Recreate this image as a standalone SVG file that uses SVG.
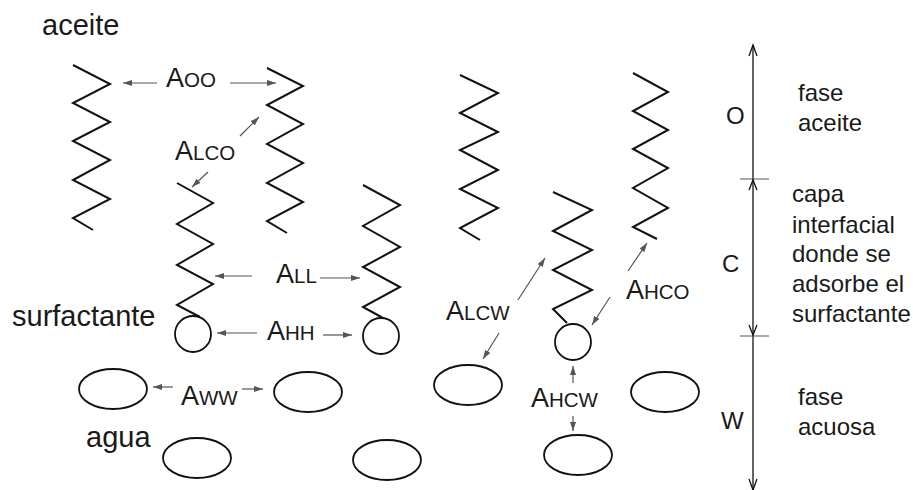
<svg xmlns="http://www.w3.org/2000/svg" width="913" height="490" viewBox="0 0 913 490">
<defs>
<marker id="ah" markerWidth="10" markerHeight="8" refX="9" refY="3" orient="auto" markerUnits="userSpaceOnUse">
<path d="M0,0 L9,3 L0,6 z" fill="#555"/>
</marker>
<style>
text{font-family:"Liberation Sans",Arial,sans-serif;fill:#1a1a1a}
.chain{fill:none;stroke:#111;stroke-width:2;stroke-linejoin:miter}
.mol{fill:none;stroke:#111;stroke-width:1.8}
.lbl{font-size:29px}
.rt{font-size:24px}
.ax{font-size:24px}
.big{font-size:27px}
.sub{font-size:20.5px}
.conn{stroke:#555;stroke-width:1.2;fill:none;marker-end:url(#ah)}
.axis{stroke:#111;stroke-width:1.3;fill:none}
.tick{stroke:#555;stroke-width:1;fill:none}
</style>
</defs>
<rect width="913" height="490" fill="#fff"/>

<g id="oil1"><polyline class="chain" points="73,65 110,84 73,103 110,122 73,141 110,160 73,180 110,199 73,218 93,230"/></g>
<g id="oil2"><polyline class="chain" points="267,68 303,86 267,105 303,124 267,144 303,163 267,183 303,202 267,221 287,233"/></g>
<g id="oil3"><polyline class="chain" points="460,75 498,93 460,113 498,132 460,150 498,170 460,189 498,208 460,228 480,240"/></g>
<g id="oil4"><polyline class="chain" points="633,73 668,92 633,111 668,130 633,149 668,168 633,188 668,208 633,227 657,239"/></g>

<g id="surf1">
<polyline class="chain" points="177,183 213,203 177,224 213,244 177,265 213,284 177,305 200,317"/>
<circle class="mol" cx="193" cy="334" r="18"/>
</g>
<g id="surf2">
<polyline class="chain" points="363,185 400,205 363,226 400,247 363,267 400,287 363,307 383,318"/>
<circle class="mol" cx="381" cy="336" r="18"/>
</g>
<g id="surf3">
<polyline class="chain" points="553,192 592,210 553,231 592,250 553,270 592,290 553,309 567,323"/>
<circle class="mol" cx="573" cy="342" r="18"/>
</g>

<g id="water1"><ellipse class="mol" cx="113" cy="389" rx="34" ry="20"/></g>
<g id="water2"><ellipse class="mol" cx="308" cy="392" rx="34" ry="20"/></g>
<g id="water3"><ellipse class="mol" cx="197" cy="458" rx="34" ry="20"/></g>
<g id="water4"><ellipse class="mol" cx="387" cy="460" rx="34" ry="20"/></g>
<g id="water5"><ellipse class="mol" cx="468" cy="385" rx="34" ry="20"/></g>
<g id="water6"><ellipse class="mol" cx="578" cy="455" rx="34" ry="20"/></g>
<g id="water7"><ellipse class="mol" cx="665" cy="392" rx="34" ry="20"/></g>

<g id="labels-left">
<text class="lbl" x="42" y="35">aceite</text>
<text class="lbl" x="12" y="326">surfactante</text>
<text class="lbl" x="86" y="447">agua</text>
</g>

<g id="interaction-labels">
<text x="166" y="87"><tspan class="big">A</tspan><tspan class="sub">OO</tspan></text>
<text x="175" y="160"><tspan class="big">A</tspan><tspan class="sub">LCO</tspan></text>
<text x="276" y="283"><tspan class="big">A</tspan><tspan class="sub">LL</tspan></text>
<text x="267" y="340"><tspan class="big">A</tspan><tspan class="sub">HH</tspan></text>
<text x="181" y="405"><tspan class="big">A</tspan><tspan class="sub">WW</tspan></text>
<text x="446" y="320"><tspan class="big">A</tspan><tspan class="sub">LCW</tspan></text>
<text x="626" y="299"><tspan class="big">A</tspan><tspan class="sub">HCO</tspan></text>
<text x="531" y="407"><tspan class="big">A</tspan><tspan class="sub">HCW</tspan></text>
</g>

<g id="connectors">
<line class="conn" x1="157" y1="83" x2="123" y2="83"/>
<line class="conn" x1="230" y1="83" x2="276" y2="83"/>
<line class="conn" x1="240" y1="136" x2="259" y2="117"/>
<line class="conn" x1="208" y1="172" x2="192" y2="187"/>
<line class="conn" x1="252" y1="276" x2="215" y2="276"/>
<line class="conn" x1="320" y1="278" x2="360" y2="278"/>
<line class="conn" x1="257" y1="333" x2="217" y2="333"/>
<line class="conn" x1="323" y1="335" x2="352" y2="335"/>
<line class="conn" x1="173" y1="387" x2="153" y2="387"/>
<line class="conn" x1="242" y1="389" x2="263" y2="389"/>
<line class="conn" x1="518" y1="300" x2="545" y2="258"/>
<line class="conn" x1="499" y1="333" x2="483" y2="359"/>
<line class="conn" x1="628" y1="271" x2="647" y2="243"/>
<line class="conn" x1="610" y1="297" x2="592" y2="325"/>
<line class="conn" x1="573" y1="383" x2="573" y2="366"/>
<line class="conn" x1="573" y1="416" x2="573" y2="431"/>
</g>

<g id="axis">
<line class="axis" x1="753" y1="45" x2="753" y2="492"/>
<polyline class="axis" points="749,56 753,45 757,56"/>
<line class="tick" x1="740" y1="179" x2="769" y2="179"/>
<polyline class="axis" points="749,190 753,180 757,190"/>
<line class="tick" x1="740" y1="336" x2="769" y2="336"/>
<polyline class="axis" points="749,325 753,335 757,325"/>
<polyline class="axis" points="749,479 753,490 757,479"/>
<text class="ax" x="726" y="124">O</text>
<text class="ax" x="722" y="272">C</text>
<text class="ax" x="721" y="429">W</text>
</g>

<g id="labels-right">
<text class="rt" x="798" y="101">fase</text>
<text class="rt" x="798" y="131">aceite</text>
<text class="rt" x="792" y="202">capa</text>
<text class="rt" x="792" y="233">interfacial</text>
<text class="rt" x="792" y="262">donde se</text>
<text class="rt" x="792" y="292">adsorbe el</text>
<text class="rt" x="792" y="322">surfactante</text>
<text class="rt" x="798" y="405">fase</text>
<text class="rt" x="798" y="435">acuosa</text>
</g>
</svg>
